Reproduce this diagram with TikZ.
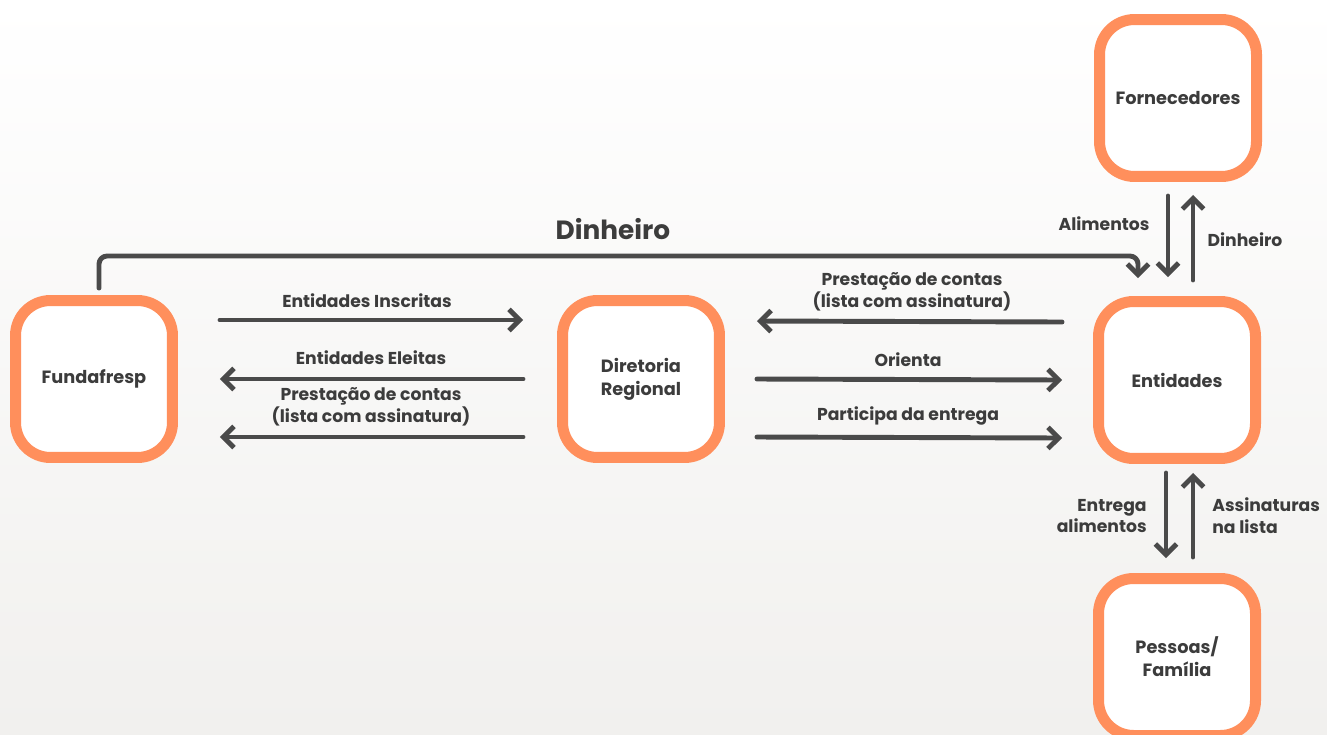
\documentclass[tikz,border=0pt]{standalone}
\usepackage{fontspec}
\setmainfont{Poppins}
\usetikzlibrary{positioning}
\usetikzlibrary{arrows.meta}
\usetikzlibrary{calc}
\definecolor{boxorange}{HTML}{FF8F5C}
\definecolor{ink}{HTML}{4A4A4A}
\definecolor{txt}{HTML}{3C3C3C}
\definecolor{bgbot}{HTML}{F1F0EE}
\tikzset{
    mynode/.style = {rectangle, rounded corners=0.7cm, line width=0.22cm, draw=boxorange, fill=white, minimum width=3.14cm, minimum height=3.14cm, align=center, text=txt, font=\bfseries\fontsize{10.1}{13}\selectfont},
    edgen/.style = {-{Straight Barb[length=6pt,width=12pt]}, line width=2.8pt, draw=ink, line cap=round, line join=round},
    lbl/.style = {text=txt, align=center, inner sep=0pt, font=\bfseries\fontsize{9.8}{12.5}\selectfont},
    lblbig/.style = {text=txt, inner sep=0pt, font=\bfseries\fontsize{15}{18}\selectfont}
}
\begin{document}
\begin{tikzpicture}[x=0.02cm, y=-0.02cm]
%
\useasboundingbox (0,0) rectangle (1327,734);
\clip (0,0) rectangle (1327,734);
\shade[top color=white, bottom color=bgbot] (0,0) rectangle (1327,734);
%
\node[mynode] at (94, 379) (fun) {Fundafresp};
\node[mynode] at (641, 379) (dir) {Diretoria\\Regional};
\node[mynode] at (1177, 380) (ent) {Entidades};
\node[mynode] at (1178, 98) (forn) {Fornecedores};
\node[mynode] at (1177, 657) (pes) {Pessoas/\\Família};
%
\draw[edgen] ($(fun.east)+(42,-59)$) -- ($(dir.west)+(-34,-59)$);
\draw[edgen] ($(dir.west)+(-34,0)$) -- ($(fun.east)+(42,0)$);
\draw[edgen] ($(dir.west)+(-34,58)$) -- ($(fun.east)+(42,58)$);
\draw[edgen] ($(ent.west)+(-31,-58)$) -- ($(dir.east)+(32,-58)$);
\draw[edgen] ($(dir.east)+(32,0)$) -- ($(ent.west)+(-31,0)$);
\draw[edgen] ($(dir.east)+(32,58)$) -- ($(ent.west)+(-31,58)$);
\draw[edgen] ($(forn.south)+(-10,14)$) -- ($(ent.north)+(-9,-19)$);
\draw[edgen] ($(ent.north)+(16,-16)$) -- ($(forn.south)+(15,13)$);
\draw[edgen] ($(ent.south)+(-11,9)$) -- ($(pes.north)+(-11,-15)$);
\draw[edgen] ($(pes.north)+(16,-16)$) -- ($(ent.south)+(16,9)$);
\draw[edgen, rounded corners=0.16cm] ($(fun.north)+(5,-7)$) -- ++(0,-32) -| ($(ent.north)+(-39,-18)$);
%
\node[lblbig] at (613, 229) (tdin) {Dinheiro};
\node[lbl] at (367, 301) (tins) {Entidades Inscritas};
\node[lbl] at (371, 358) (tele) {Entidades Eleitas};
\node[lbl] at (371, 407) (tpre) {Prestação de contas\\(lista com assinatura)};
\node[lbl] at (912, 292) (tpre2) {Prestação de contas\\(lista com assinatura)};
\node[lbl] at (908, 360) (tori) {Orienta};
\node[lbl] at (908, 416) (tpar) {Participa da entrega};
\node[lbl] at (1104, 224) (tali) {Alimentos};
\node[lbl] at (1245, 240) (tdin2) {Dinheiro};
\node[lbl, align=right, anchor=east] at (1147, 516) (tent) {Entrega\\alimentos};
\node[lbl, align=left, anchor=west] at (1212, 516) (tass) {Assinaturas\\na lista};

\end{tikzpicture}
\end{document}
